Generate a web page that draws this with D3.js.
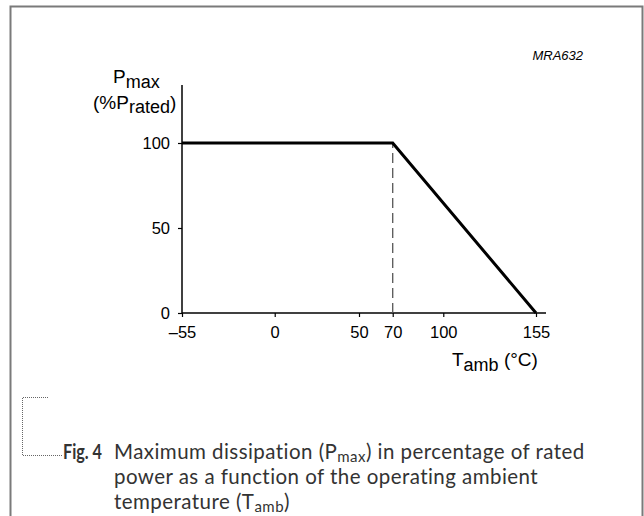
<!DOCTYPE html>
<html>
<head>
<meta charset="utf-8">
<script src="https://cdn.jsdelivr.net/npm/d3@7"></script>
<style>
  html, body { margin: 0; padding: 0; background: #fff; }
  svg { display: block; }
</style>
</head>
<body>
<script>
// ---- data ----
const tempPoints = [-55, 70, 155];          // T_amb (°C)
const pmaxPoints = [100, 100, 0];           // P_max (% P_rated)
const kneeTemp = [70];                      // dashed marker
const xTickValues = [-55, 0, 50, 70, 100, 155];
const yTickValues = [0, 50, 100];
const figCode = "MRA632";

const W = 644, H = 516;
const svg = d3.select("body").append("svg").attr("width", W).attr("height", H);

// frame
svg.append("path")
  .attr("d", `M10.5,${H} V6.5 H642.5 V${H}`)
  .attr("fill", "none").attr("stroke", "#7a7a7a").attr("stroke-width", 2);

const x = d3.scaleLinear().domain([-55, 155]).range([182, 536]);
const y = d3.scaleLinear().domain([0, 100]).range([313, 143]);

const chartFont = "'Liberation Sans', Arial, sans-serif";
const fs = 16.5;

// axes
const gx = svg.append("g").attr("transform", `translate(0,${y(0)})`)
  .call(d3.axisBottom(x).tickValues(xTickValues).tickSizeOuter(0).tickSize(4).tickPadding(9)
    .tickFormat(d => d < 0 ? "\u2013" + Math.abs(d) : d));
gx.select(".domain").remove();
gx.selectAll("text").attr("font-family", chartFont).attr("font-size", fs).attr("fill", "#000");
gx.selectAll("line").attr("stroke", "#000").attr("stroke-width", 1.2);

const gy = svg.append("g").attr("transform", `translate(${x(-55)},0)`)
  .call(d3.axisLeft(y).tickValues(yTickValues).tickSizeOuter(0).tickSize(4).tickPadding(8));
gy.select(".domain").remove();
gy.selectAll("text").attr("font-family", chartFont).attr("font-size", fs).attr("fill", "#000");
gy.selectAll("line").attr("stroke", "#000").attr("stroke-width", 1.2);

// axis lines (extend past data range)
svg.append("line").attr("x1", x(-55)).attr("x2", x(155) + 10)
  .attr("y1", y(0)).attr("y2", y(0)).attr("stroke", "#000").attr("stroke-width", 1.5);
svg.append("line").attr("x1", x(-55)).attr("x2", x(-55))
  .attr("y1", y(0)).attr("y2", y(100) - 58).attr("stroke", "#000").attr("stroke-width", 1.5);

// dashed knee marker
svg.selectAll(".knee").data(kneeTemp).enter().append("line")
  .attr("x1", d => x(d)).attr("x2", d => x(d))
  .attr("y1", y(0)).attr("y2", y(100))
  .attr("stroke", "#555").attr("stroke-width", 1.3).attr("stroke-dasharray", "10,5");

// derating curve
const pts = tempPoints.map((t, i) => [t, pmaxPoints[i]]);
svg.append("path").datum(pts)
  .attr("d", d3.line().x(d => x(d[0])).y(d => y(d[1])))
  .attr("fill", "none").attr("stroke", "#000").attr("stroke-width", 3)
  .attr("stroke-linejoin", "miter");

// axis titles
const yt1 = svg.append("text").attr("font-family", chartFont).attr("font-size", 19)
  .attr("x", 113).attr("y", 83);
yt1.append("tspan").text("P");
yt1.append("tspan").attr("dy", 5).attr("font-size", 18).text("max");

const yt2 = svg.append("text").attr("font-family", chartFont).attr("font-size", 19)
  .attr("x", 93).attr("y", 109);
yt2.append("tspan").text("(%P");
yt2.append("tspan").attr("dy", 4).attr("font-size", 18).text("rated");
yt2.append("tspan").attr("dy", -4).text(")");

const xt = svg.append("text").attr("font-family", chartFont).attr("font-size", 19)
  .attr("x", 452).attr("y", 366);
xt.append("tspan").text("T");
xt.append("tspan").attr("dy", 5).attr("font-size", 18).text("amb");
xt.append("tspan").attr("dy", -5).text(" (\u00B0C)");

svg.append("text").attr("font-family", chartFont).attr("font-size", 13)
  .attr("font-style", "italic").attr("x", 583).attr("y", 60).attr("text-anchor", "end")
  .text(figCode);

// caption bracket (dotted)
svg.append("path").attr("d", "M48,397.5 H22.5 V455.5 H62")
  .attr("fill", "none").attr("stroke", "#666").attr("stroke-width", 1)
  .attr("stroke-dasharray", "1,1");

// caption
const capFont = "Lato, 'Open Sans', sans-serif";
const capColor = "#333";
const cap = svg.append("g").attr("font-family", capFont).attr("font-size", 20.5)
  .attr("letter-spacing", 0.45).attr("fill", capColor);
cap.append("text").attr("x", 63).attr("y", 459).attr("font-weight", "bold").attr("letter-spacing", 0)
  .attr("textLength", 39).attr("lengthAdjust", "spacingAndGlyphs").text("Fig. 4");
const l1 = cap.append("text").attr("x", 114).attr("y", 459);
l1.append("tspan").text("Maximum dissipation (P");
l1.append("tspan").attr("dy", 3).attr("font-size", 15).text("max");
l1.append("tspan").attr("dy", -3).text(") in percentage of rated");
cap.append("text").attr("x", 114).attr("y", 484).text("power as a function of the operating ambient");
const l3 = cap.append("text").attr("x", 114).attr("y", 509);
l3.append("tspan").text("temperature (T");
l3.append("tspan").attr("dy", 3).attr("font-size", 15).text("amb");
l3.append("tspan").attr("dy", -3).text(")");
</script>
</body>
</html>
